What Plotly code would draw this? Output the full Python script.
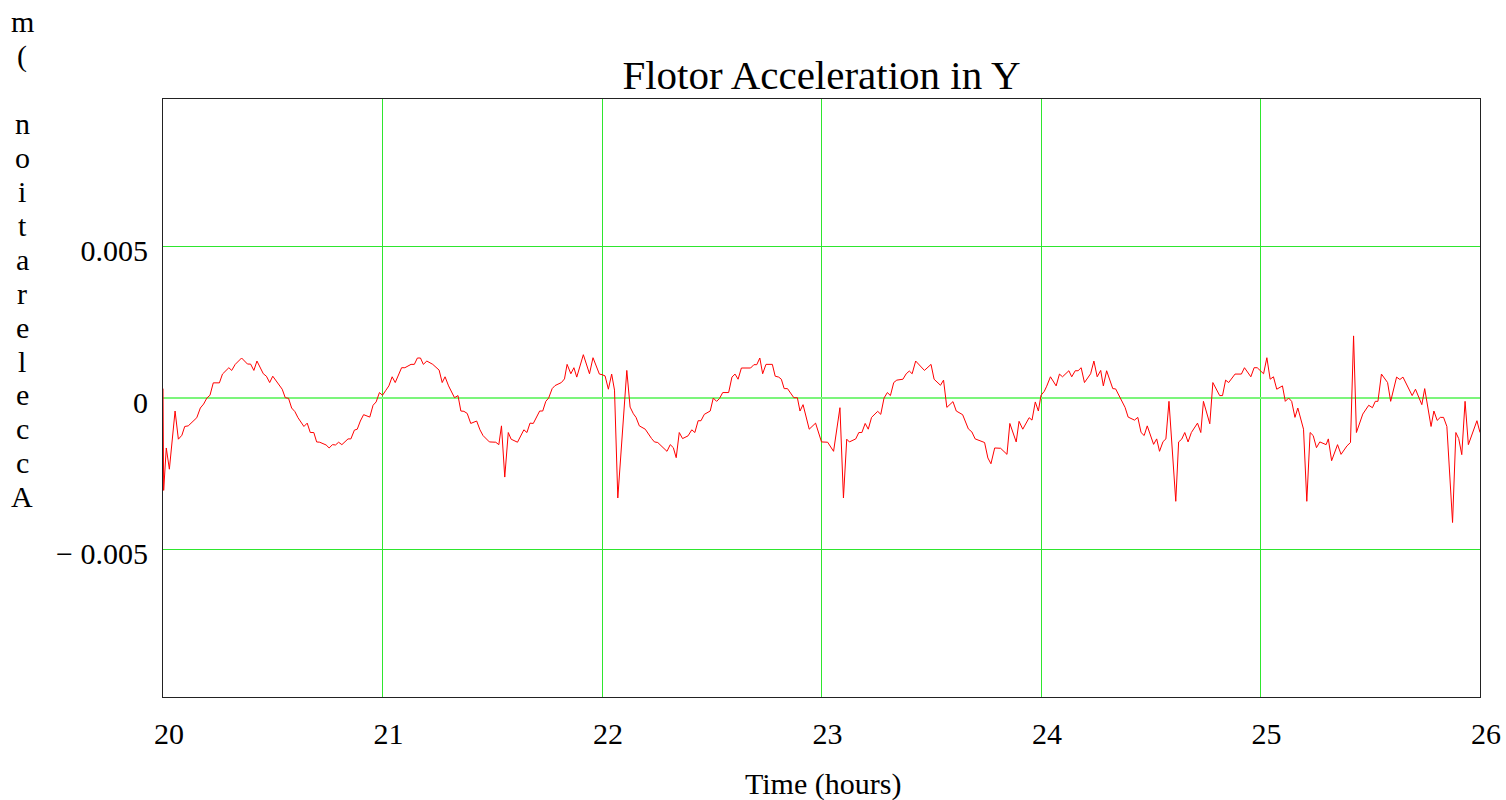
import plotly.graph_objects as go

# ---------------- data ----------------
time_hours = [
    # 20 - 21
    20.000, 20.003, 20.015, 20.029, 20.055, 20.070, 20.086, 20.099, 20.115, 20.154,
    20.170, 20.185, 20.200, 20.214, 20.229, 20.257, 20.271, 20.300, 20.313, 20.329,
    20.358, 20.385, 20.399, 20.414, 20.428, 20.457, 20.471, 20.486, 20.500, 20.529,
    20.543, 20.557, 20.572, 20.586, 20.601, 20.615, 20.642, 20.657, 20.671, 20.687,
    20.700, 20.714, 20.743, 20.757, 20.772, 20.786, 20.800, 20.815, 20.843, 20.856,
    20.872, 20.885, 20.899, 20.914, 20.942, 20.957, 20.971, 20.986,
    # 21 - 22
    21.000, 21.014, 21.029, 21.044, 21.058, 21.087, 21.102, 21.130, 21.145, 21.159,
    21.173, 21.186, 21.202, 21.229, 21.258, 21.272, 21.285, 21.301, 21.328, 21.344,
    21.357, 21.371, 21.386, 21.402, 21.429, 21.444, 21.458, 21.487, 21.516, 21.530,
    21.542, 21.557, 21.573, 21.586, 21.615, 21.644, 21.658, 21.672, 21.687, 21.716,
    21.730, 21.744, 21.757, 21.773, 21.786, 21.815, 21.829, 21.841, 21.858, 21.872,
    21.885, 21.915, 21.943, 21.959, 21.988,
    # 22 - 23
    22.000, 22.014, 22.029, 22.044, 22.057, 22.072, 22.113, 22.128, 22.143, 22.155,
    22.170, 22.197, 22.226, 22.239, 22.254, 22.268, 22.296, 22.311, 22.325, 22.338,
    22.352, 22.367, 22.392, 22.409, 22.423, 22.438, 22.451, 22.466, 22.493, 22.507,
    22.522, 22.535, 22.550, 22.577, 22.592, 22.606, 22.620, 22.635, 22.677, 22.692,
    22.705, 22.719, 22.732, 22.747, 22.776, 22.789, 22.805, 22.817, 22.830, 22.845,
    22.874, 22.890, 22.902, 22.916, 22.944, 22.973,
    # 23 - 24
    23.000, 23.028, 23.055, 23.084, 23.100, 23.115, 23.127, 23.156, 23.170, 23.184,
    23.199, 23.213, 23.228, 23.256, 23.270, 23.285, 23.300, 23.314, 23.329, 23.343,
    23.371, 23.386, 23.400, 23.413, 23.429, 23.469, 23.499, 23.513, 23.542, 23.556,
    23.571, 23.599, 23.614, 23.643, 23.669, 23.685, 23.700, 23.743, 23.758, 23.772,
    23.789, 23.816, 23.845, 23.858, 23.887, 23.900, 23.917, 23.946, 23.959, 23.974,
    23.988,
    # 24 - 25
    24.000, 24.015, 24.026, 24.043, 24.069, 24.084, 24.098, 24.127, 24.140, 24.156,
    24.169, 24.183, 24.198, 24.226, 24.241, 24.256, 24.272, 24.284, 24.299, 24.327,
    24.340, 24.369, 24.383, 24.397, 24.426, 24.441, 24.456, 24.470, 24.484, 24.513,
    24.527, 24.540, 24.556, 24.569, 24.583, 24.614, 24.627, 24.641, 24.655, 24.670,
    24.685, 24.713, 24.728, 24.740, 24.769, 24.783, 24.814, 24.827, 24.841, 24.855,
    24.884, 24.913, 24.927, 24.956, 24.971, 24.985, 24.998,
    # 25 - 26
    25.014, 25.029, 25.044, 25.059, 25.074, 25.100, 25.113, 25.128, 25.142, 25.157,
    25.170, 25.196, 25.211, 25.226, 25.240, 25.255, 25.270, 25.299, 25.309, 25.324,
    25.351, 25.367, 25.394, 25.410, 25.424, 25.437, 25.466, 25.493, 25.510, 25.523,
    25.535, 25.551, 25.579, 25.593, 25.620, 25.635, 25.649, 25.691, 25.706, 25.735,
    25.748, 25.777, 25.790, 25.805, 25.819, 25.834, 25.849, 25.875, 25.890, 25.903,
    25.917, 25.932, 25.947, 25.986, 26.000,
]

accel_y = [
    # 20 - 21
    0.31e-3, -3.05e-3, -1.65e-3, -2.35e-3, -0.43e-3, -1.36e-3, -1.23e-3, -0.94e-3, -0.92e-3, -0.65e-3,
    -0.33e-3, -0.20e-3, 0.00e-3, 0.09e-3, 0.50e-3, 0.50e-3, 0.79e-3, 1.00e-3, 0.91e-3, 1.11e-3,
    1.32e-3, 1.12e-3, 1.12e-3, 0.91e-3, 1.22e-3, 0.80e-3, 0.72e-3, 0.51e-3, 0.72e-3, 0.43e-3,
    0.29e-3, 0.01e-3, -0.01e-3, -0.33e-3, -0.45e-3, -0.65e-3, -0.94e-3, -0.83e-3, -1.14e-3, -1.14e-3,
    -1.45e-3, -1.46e-3, -1.55e-3, -1.65e-3, -1.54e-3, -1.55e-3, -1.46e-3, -1.54e-3, -1.35e-3, -1.35e-3,
    -1.06e-3, -1.03e-3, -0.76e-3, -0.55e-3, -0.63e-3, -0.24e-3, -0.13e-3, 0.18e-3,
    # 21 - 22
    0.09e-3, 0.24e-3, 0.40e-3, 0.70e-3, 0.51e-3, 1.00e-3, 1.00e-3, 1.11e-3, 1.11e-3, 1.32e-3,
    1.32e-3, 1.11e-3, 1.22e-3, 1.11e-3, 0.92e-3, 0.51e-3, 0.70e-3, 0.40e-3, 0.01e-3, 0.08e-3,
    -0.43e-3, -0.44e-3, -0.51e-3, -0.84e-3, -0.76e-3, -1.05e-3, -1.24e-3, -1.45e-3, -1.46e-3, -1.54e-3,
    -0.92e-3, -2.61e-3, -1.14e-3, -1.36e-3, -1.46e-3, -1.05e-3, -1.14e-3, -0.83e-3, -0.84e-3, -0.43e-3,
    -0.43e-3, -0.11e-3, 0.00e-3, 0.31e-3, 0.41e-3, 0.51e-3, 0.63e-3, 1.11e-3, 0.80e-3, 1.00e-3,
    0.69e-3, 1.43e-3, 0.80e-3, 1.33e-3, 0.79e-3,
    # 22 - 23
    0.77e-3, 0.73e-3, 0.29e-3, 0.79e-3, 0.26e-3, -3.30e-3, 0.91e-3, -0.30e-3, -0.52e-3, -0.64e-3,
    -0.92e-3, -1.03e-3, -1.34e-3, -1.45e-3, -1.47e-3, -1.56e-3, -1.76e-3, -1.54e-3, -1.64e-3, -1.97e-3,
    -1.14e-3, -1.34e-3, -1.25e-3, -1.05e-3, -1.14e-3, -0.75e-3, -0.75e-3, -0.54e-3, -0.43e-3, 0.00e-3,
    -0.11e-3, -0.02e-3, 0.18e-3, 0.18e-3, 0.69e-3, 0.79e-3, 0.62e-3, 0.99e-3, 0.99e-3, 1.10e-3,
    1.10e-3, 1.32e-3, 0.80e-3, 1.11e-3, 1.11e-3, 0.72e-3, 0.69e-3, 0.62e-3, 0.31e-3, 0.31e-3,
    0.01e-3, 0.01e-3, -0.43e-3, -0.22e-3, -1.03e-3, -0.83e-3,
    # 23 - 24
    -1.45e-3, -1.46e-3, -1.76e-3, -0.32e-3, -3.30e-3, -1.36e-3, -1.45e-3, -1.35e-3, -1.14e-3, -1.14e-3,
    -0.84e-3, -1.03e-3, -0.64e-3, -0.44e-3, -0.54e-3, 0.00e-3, 0.18e-3, 0.08e-3, 0.51e-3, 0.59e-3,
    0.62e-3, 0.80e-3, 0.89e-3, 0.80e-3, 1.22e-3, 0.91e-3, 1.11e-3, 0.62e-3, 0.42e-3, 0.59e-3,
    -0.31e-3, -0.12e-3, -0.43e-3, -0.55e-3, -1.02e-3, -1.12e-3, -1.35e-3, -1.47e-3, -1.98e-3, -2.17e-3,
    -1.65e-3, -1.66e-3, -1.86e-3, -0.84e-3, -1.45e-3, -0.77e-3, -1.03e-3, -0.65e-3, -0.73e-3, -0.13e-3,
    -0.43e-3,
    # 24 - 25
    0.09e-3, 0.22e-3, 0.39e-3, 0.70e-3, 0.40e-3, 0.79e-3, 0.70e-3, 0.90e-3, 0.70e-3, 0.90e-3,
    0.90e-3, 1.00e-3, 0.51e-3, 0.80e-3, 1.22e-3, 0.70e-3, 0.91e-3, 0.40e-3, 0.90e-3, 0.31e-3,
    0.30e-3, -0.11e-3, -0.31e-3, -0.63e-3, -0.73e-3, -0.64e-3, -1.14e-3, -1.24e-3, -0.92e-3, -1.53e-3,
    -1.35e-3, -1.76e-3, -1.44e-3, -1.35e-3, -0.11e-3, -3.41e-3, -1.45e-3, -1.36e-3, -1.14e-3, -1.45e-3,
    -1.14e-3, -0.83e-3, -1.14e-3, -0.11e-3, -0.85e-3, 0.51e-3, 0.08e-3, 0.08e-3, 0.59e-3, 0.51e-3,
    0.79e-3, 0.79e-3, 1.00e-3, 0.70e-3, 1.00e-3, 1.00e-3, 0.90e-3,
    # 25 - 26
    0.80e-3, 1.33e-3, 0.62e-3, 0.70e-3, 0.29e-3, 0.40e-3, -0.11e-3, 0.00e-3, -0.11e-3, -0.64e-3,
    -0.33e-3, -1.03e-3, -3.41e-3, -1.14e-3, -1.24e-3, -1.64e-3, -1.45e-3, -1.54e-3, -1.35e-3, -2.07e-3,
    -1.54e-3, -1.86e-3, -1.58e-3, -1.47e-3, 2.05e-3, -1.14e-3, -0.53e-3, -0.24e-3, -0.32e-3, -0.11e-3,
    -0.11e-3, 0.79e-3, 0.51e-3, -0.11e-3, 0.69e-3, 0.61e-3, 0.69e-3, 0.08e-3, 0.29e-3, -0.22e-3,
    0.31e-3, -0.94e-3, -0.43e-3, -0.74e-3, -0.64e-3, -0.64e-3, -0.94e-3, -4.11e-3, -1.14e-3, -1.34e-3,
    -1.87e-3, -0.11e-3, -1.54e-3, -0.75e-3, -1.14e-3,
]

x_ticks = [20, 21, 22, 23, 24, 25, 26]
y_ticks = [-0.005, 0, 0.005]
y_tick_text = ["\u2212 0.005", "0", "0.005"]
x_range = [20, 26]
y_range = [-0.00987, 0.00987]

chart_title = "Flotor Acceleration in Y"
x_title = "Time (hours)"
y_title = "Acceleration (m"

# ---------------- layout constants ----------------
W, H = 1506, 800
L, R, T, B = 163, 26, 99, 103
FONT = "Liberation Serif, Times New Roman, serif"
GRID = "#2EE62E"


def paper(px, py):
    """page pixel -> paper coordinates"""
    return (px - L) / (W - L - R), (H - B - py) / (H - T - B)


fig = go.Figure(
    go.Scatter(
        x=time_hours,
        y=accel_y,
        mode="lines",
        line=dict(color="#FF0000", width=1),
        showlegend=False,
    )
)

annotations = []
# stacked (reversed) y-axis title characters, as in the reference
chars = list(reversed(y_title))
for i, ch in enumerate(chars):
    if ch == " ":
        continue
    ax, ay = paper(22, 22 + 33.9 * i)
    annotations.append(dict(
        text=ch, x=ax, y=ay, xref="paper", yref="paper",
        xanchor="center", yanchor="middle", showarrow=False,
        font=dict(family=FONT, size=30, color="black"),
    ))

tx, ty = paper(823, 784)
annotations.append(dict(
    text=x_title, x=tx, y=ty, xref="paper", yref="paper",
    xanchor="center", yanchor="middle", showarrow=False,
    font=dict(family=FONT, size=30, color="black"),
))

fig.update_layout(
    width=W, height=H,
    autosize=False,
    margin=dict(l=L, r=R, t=T, b=B, pad=0, autoexpand=False),
    paper_bgcolor="white",
    plot_bgcolor="white",
    font=dict(family=FONT, size=30, color="black"),
    title=dict(
        text=chart_title,
        x=0.5, xref="paper", xanchor="center",
        y=1 - 75 / H, yref="container", yanchor="middle",
        font=dict(family=FONT, size=41, color="black"),
    ),
    annotations=annotations,
    xaxis=dict(
        range=x_range,
        tickvals=x_ticks,
        ticktext=[str(v) for v in x_ticks],
        showgrid=True, gridcolor=GRID, gridwidth=1,
        zeroline=False,
        showline=True, linecolor="#222222", linewidth=1, mirror=True,
        ticks="",
        automargin=False,
        ticklabelstandoff=10,
        ticklabelshift=6,
        ticklabeloverflow="allow",
        tickfont=dict(family=FONT, size=30, color="black"),
    ),
    yaxis=dict(
        range=y_range,
        tickvals=y_ticks,
        ticktext=y_tick_text,
        showgrid=True, gridcolor=GRID, gridwidth=1,
        zeroline=True, zerolinecolor="#7CF57C", zerolinewidth=2,
        showline=True, linecolor="#222222", linewidth=1, mirror=True,
        ticks="",
        automargin=False,
        ticklabelstandoff=8,
        ticklabelshift=4,
        tickfont=dict(family=FONT, size=30, color="black"),
    ),
)

# remove the browser's default 8px page margin so the 1506x800 figure fills the window
fig.write_html(
    "out.html",
    config={"displayModeBar": False, "responsive": False},
    post_script="document.body.style.margin='0';document.body.style.overflow='hidden';",
)
